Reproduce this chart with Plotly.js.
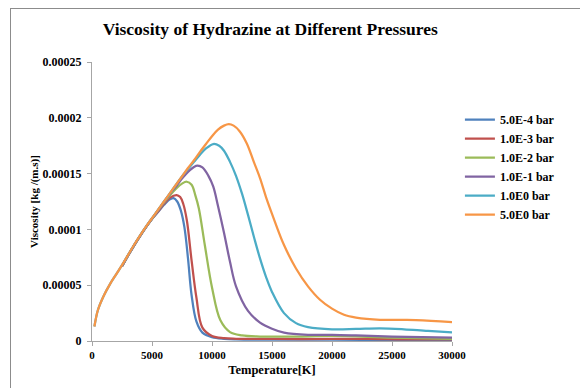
<!DOCTYPE html>
<html>
<head>
<meta charset="utf-8">
<script src="https://cdn.plot.ly/plotly-3.0.1.min.js"></script>
<style>
  html, body { margin: 0; padding: 0; overflow: hidden; background: #fff; }
  #wrap { position: relative; width: 580px; height: 388px; }
  #chart { position: absolute; left: 0; top: 0; width: 580px; height: 388px; }
  #frame { position: absolute; left: 10px; top: 8px; width: 620px; height: 420px;
           border: 1px solid #8c8c8c; pointer-events: none; }
</style>
</head>
<body>
<div id="wrap"><div id="chart"></div><div id="frame"></div></div>
<script>
// Temperature [K] and viscosity [kg/(m.s)]
const seriesNames = ["5.0E-4 bar", "1.0E-3 bar", "1.0E-2 bar", "1.0E-1 bar", "1.0E0 bar", "5.0E0 bar"];

const T_5e4 = [2500, 3000, 3500, 4000, 4500, 5000, 5500, 6000, 6500, 6800, 7100, 7400, 7700, 8000, 8300, 8700, 9200, 10000, 11000, 12000, 15000, 20000, 25000, 30000];
const V_5e4 = [6.7e-5, 7.65e-5, 8.55e-5, 9.4e-5, 1.02e-4, 1.095e-4, 1.155e-4, 1.22e-4, 1.27e-4, 1.28e-4, 1.25e-4, 1.17e-4, 1.02e-4, 7.4e-5, 4.1e-5, 1.75e-5, 7.5e-6, 3.5e-6, 2.0e-6, 1.5e-6, 1.2e-6, 1.2e-6, 1.0e-6, 1.0e-6];

const T_1e3 = [2500, 3000, 3500, 4000, 4500, 5000, 5500, 6000, 6500, 7050, 7350, 7600, 7900, 8300, 8700, 9200, 10000, 11000, 12000, 15000, 20000, 23000, 26000, 30000];
const V_1e3 = [6.7e-5, 7.65e-5, 8.55e-5, 9.4e-5, 1.02e-4, 1.095e-4, 1.16e-4, 1.23e-4, 1.285e-4, 1.308e-4, 1.29e-4, 1.23e-4, 1.084e-4, 7.2e-5, 3.9e-5, 1.2e-5, 4.5e-6, 2.5e-6, 2.0e-6, 1.8e-6, 1.8e-6, 2.0e-6, 1.5e-6, 1.5e-6];

const T_1e2 = [2500, 3000, 3500, 4000, 4500, 5000, 5500, 6000, 6500, 7000, 7500, 7900, 8300, 8600, 8900, 9400, 10000, 10700, 11500, 12500, 14000, 17000, 20000, 25000, 30000];
const V_1e2 = [6.7e-5, 7.65e-5, 8.55e-5, 9.4e-5, 1.02e-4, 1.095e-4, 1.17e-4, 1.24e-4, 1.305e-4, 1.365e-4, 1.41e-4, 1.427e-4, 1.4e-4, 1.31e-4, 1.19e-4, 8.6e-5, 4.8e-5, 1.85e-5, 8.0e-6, 5.0e-6, 4.0e-6, 4.0e-6, 4.5e-6, 3.0e-6, 2.0e-6];

const T_1e1 = [2500, 3000, 3500, 4000, 4500, 5000, 5500, 6000, 6500, 7000, 7500, 8000, 8500, 8800, 9200, 9700, 10100, 10500, 11000, 11500, 12000, 13000, 14000, 15000, 16000, 18000, 20000, 22000, 25000, 30000];
const V_1e1 = [6.7e-5, 7.65e-5, 8.55e-5, 9.4e-5, 1.02e-4, 1.095e-4, 1.17e-4, 1.245e-4, 1.32e-4, 1.385e-4, 1.455e-4, 1.515e-4, 1.56e-4, 1.571e-4, 1.555e-4, 1.48e-4, 1.385e-4, 1.21e-4, 9.7e-5, 7.1e-5, 4.9e-5, 2.7e-5, 1.65e-5, 1.1e-5, 7.5e-6, 5.5e-6, 5.5e-6, 5.0e-6, 4.0e-6, 3.0e-6];

const T_1e0 = [200, 500, 1000, 1500, 2000, 2500, 3000, 3500, 4000, 4500, 5000, 5500, 6000, 6500, 7000, 7500, 8000, 8500, 9000, 9500, 10100, 10600, 11000, 11500, 12000, 12500, 13000, 13500, 14000, 14500, 15000, 16000, 17000, 18000, 20000, 22000, 24000, 26000, 28000, 30000];
const V_1e0 = [1.3e-5, 2.8e-5, 4.1e-5, 5.1e-5, 5.95e-5, 6.8e-5, 7.7e-5, 8.6e-5, 9.45e-5, 1.025e-4, 1.1e-4, 1.175e-4, 1.25e-4, 1.325e-4, 1.4e-4, 1.475e-4, 1.54e-4, 1.605e-4, 1.67e-4, 1.725e-4, 1.765e-4, 1.75e-4, 1.705e-4, 1.605e-4, 1.48e-4, 1.32e-4, 1.13e-4, 9.3e-5, 7.4e-5, 5.75e-5, 4.4e-5, 2.5e-5, 1.6e-5, 1.25e-5, 1.05e-5, 1.08e-5, 1.14e-5, 1.05e-5, 9.0e-6, 7.8e-6];

const T_5e0 = [200, 500, 1000, 1500, 2000, 2500, 3000, 3500, 4000, 4500, 5000, 5500, 6000, 6500, 7000, 7500, 8000, 8500, 9000, 9500, 10000, 10500, 11000, 11400, 11800, 12300, 12900, 13500, 14000, 14500, 15000, 16000, 17000, 18000, 19000, 20000, 21000, 22000, 24000, 27000, 30000];
const V_5e0 = [1.3e-5, 2.8e-5, 4.1e-5, 5.1e-5, 5.95e-5, 6.8e-5, 7.7e-5, 8.6e-5, 9.45e-5, 1.025e-4, 1.1e-4, 1.175e-4, 1.25e-4, 1.325e-4, 1.4e-4, 1.475e-4, 1.55e-4, 1.62e-4, 1.695e-4, 1.765e-4, 1.835e-4, 1.895e-4, 1.93e-4, 1.943e-4, 1.93e-4, 1.88e-4, 1.77e-4, 1.6e-4, 1.46e-4, 1.29e-4, 1.14e-4, 8.6e-5, 6.5e-5, 4.9e-5, 3.7e-5, 2.9e-5, 2.35e-5, 2.1e-5, 1.9e-5, 1.88e-5, 1.7e-5];

const xTickVals = [0, 5000, 10000, 15000, 20000, 25000, 30000];
const xTickText = ["0", "5000", "10000", "15000", "20000", "25000", "30000"];
const yTickVals = [0, 0.00005, 0.0001, 0.00015, 0.0002, 0.00025];
const yTickText = ["0", "0.00005", "0.0001", "0.00015", "0.0002", "0.00025"];

const colors = ["#4F81BD", "#C0504D", "#9BBB59", "#8064A2", "#4BACC6", "#F79646"];
const Ts = [T_5e4, T_1e3, T_1e2, T_1e1, T_1e0, T_5e0];
const Vs = [V_5e4, V_1e3, V_1e2, V_1e1, V_1e0, V_5e0];

const serif = "Liberation Serif, Times New Roman, serif";

const traces = seriesNames.map((name, i) => ({
  type: "scatter",
  mode: "lines",
  name: name,
  x: Ts[i],
  y: Vs[i],
  line: { color: colors[i], width: 2.25, shape: "spline", smoothing: 1 }
}));

const layout = {
  width: 580,
  height: 388,
  margin: { l: 92, r: 128, t: 62, b: 47 },
  paper_bgcolor: "rgba(0,0,0,0)",
  plot_bgcolor: "rgba(0,0,0,0)",
  showlegend: true,
  title: {
    text: "Viscosity of Hydrazine at Different Pressures",
    font: { family: serif, size: 17.5, color: "#000", weight: "bold" },
    xref: "container", x: 0.466, xanchor: "center",
    yref: "container", y: 0.925, yanchor: "middle"
  },
  xaxis: {
    range: [0, 30000],
    tickvals: xTickVals,
    ticktext: xTickText,
    showgrid: false,
    zeroline: false,
    showline: true,
    linecolor: "#a6a6a6",
    linewidth: 1,
    ticks: "outside",
    ticklen: 4,
    tickcolor: "#a6a6a6",
    tickfont: { family: serif, size: 11, color: "#000", weight: "bold" },
    title: { text: "Temperature[K]", font: { family: serif, size: 12.5, color: "#000", weight: "bold" }, standoff: 5 }
  },
  yaxis: {
    range: [0, 0.00025],
    tickvals: yTickVals,
    ticktext: yTickText,
    showgrid: false,
    zeroline: false,
    showline: true,
    linecolor: "#a6a6a6",
    linewidth: 1,
    ticks: "outside",
    ticklen: 4,
    tickcolor: "#a6a6a6",
    ticklabelstandoff: 3,
    tickfont: { family: serif, size: 12, color: "#000", weight: "bold" },
    title: { text: "Viscosity [kg /(m.s)]", font: { family: serif, size: 11, color: "#000", weight: "bold" }, standoff: 1 }
  },
  legend: {
    x: 1.022, xanchor: "left",
    y: 0.845, yanchor: "top",
    font: { family: serif, size: 12, color: "#000", weight: "bold" },
    itemwidth: 30,
    bgcolor: "rgba(0,0,0,0)",
    tracegroupgap: 0
  }
};

Plotly.newPlot("chart", traces, layout, { displayModeBar: false, staticPlot: true });
</script>
</body>
</html>
